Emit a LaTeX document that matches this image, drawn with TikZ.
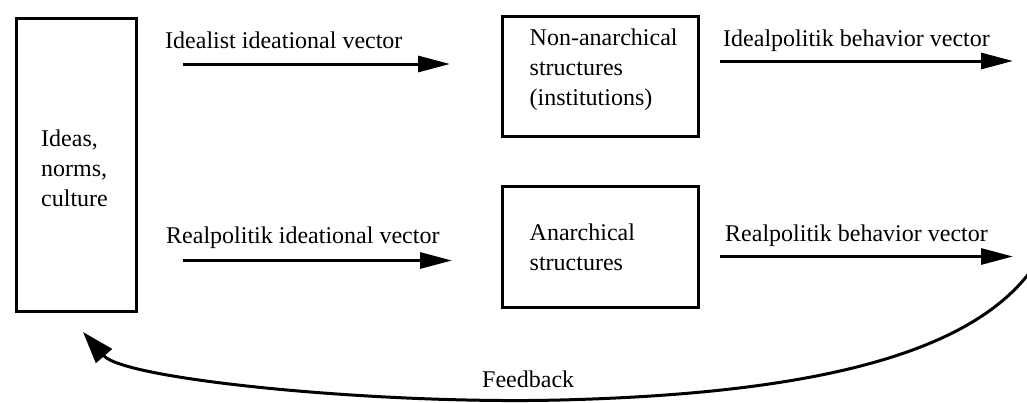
\documentclass[tikz,border=0pt]{standalone}
\usepackage{fontspec}
\setmainfont{Liberation Serif}
\usetikzlibrary{arrows.meta}
\begin{document}
\begin{tikzpicture}[x=1pt,y=-1pt,
  box/.style={draw, line width=3pt, inner sep=0pt, anchor=north west},
  txt/.style={inner sep=0pt, font=\fontsize{24}{30}\selectfont, align=left},
  vec/.style={line width=3pt, -{Triangle[length=32pt,width=16pt]}},
  fb/.style={line width=3pt, -{Triangle[length=32pt,width=21pt]}}]
\useasboundingbox (0,0) rectangle (1027,402);

% boxes
\node[box, minimum width=120.5pt, minimum height=293pt] (ideas) at (14.5,16.5) {};
\node[box, minimum width=196pt, minimum height=120.3pt] (inst) at (500.5,14.7) {};
\node[box, minimum width=196pt, minimum height=121.3pt] (anar) at (500.5,184.7) {};

% box texts
\node[txt, anchor=north west] (ideastxt) at (41,129.6) {Ideas,\\norms,\\culture};
\node[txt, anchor=north west] (insttxt) at (529.5,28.6) {Non-anarchical\\structures\\(institutions)};
\node[txt, anchor=north west] (anartxt) at (529.5,223.6) {Anarchical\\structures};

% vector labels
\node[txt, anchor=base west] (l1) at (165,48) {Idealist ideational vector};
\node[txt, anchor=base west] (l2) at (166,243) {Realpolitik ideational vector};
\node[txt, anchor=base west] (l3) at (723,46) {Idealpolitik behavior vector};
\node[txt, anchor=base west] (l4) at (725,241) {Realpolitik behavior vector};
\node[txt, anchor=base west] (l5) at (482,387) {Feedback};

% vector end points
\coordinate (a1s) at (183,64);   \coordinate (a1e) at (450,64);
\coordinate (a2s) at (183,260.5); \coordinate (a2e) at (452,260.5);
\coordinate (a3s) at (720,61);   \coordinate (a3e) at (1013,61);
\coordinate (a4s) at (720,256.5); \coordinate (a4e) at (1013,256.5);

\draw[vec] (a1s) -- (a1e);
\draw[vec] (a2s) -- (a2e);
\draw[vec] (a3s) -- (a3e);
\draw[vec] (a4s) -- (a4e);

% feedback loop
\coordinate (fbstart) at (1030,272);
\coordinate (fbend) at (83,332);
\draw[fb] (fbstart) .. controls (965,358) and (800,394) .. (560,400)
          .. controls (380,404.5) and (125,380) .. (fbend);
\end{tikzpicture}
\end{document}
